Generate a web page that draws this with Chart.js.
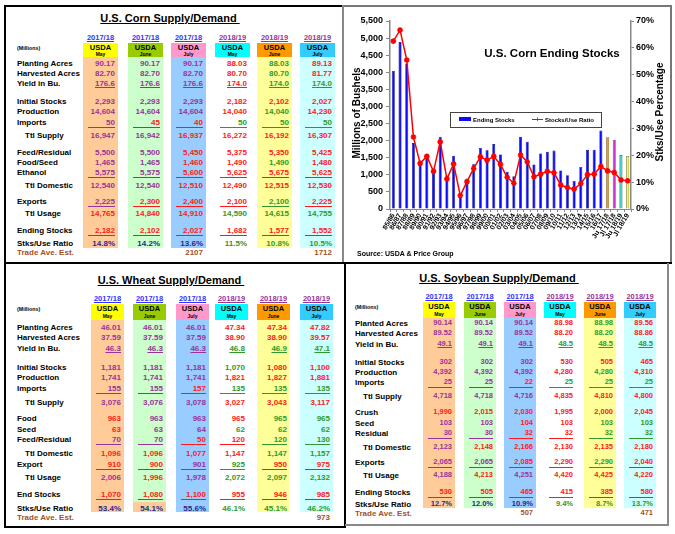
<!DOCTYPE html>
<html><head><meta charset="utf-8">
<script src="https://cdn.jsdelivr.net/npm/chart.js@4.4.0/dist/chart.umd.min.js"></script>
<style>
html,body{margin:0;padding:0;background:#fff;width:675px;height:534px;overflow:hidden;font-family:'Liberation Sans',Arial,sans-serif;font-weight:bold;}
#root{position:relative;width:675px;height:534px;}
</style></head><body>
<div id="root"></div>
<script>
// ---------------- DATA ----------------
const years = ['85/86','86/87','87/88','88/89','89/90','90/91','91/92','92/93','93/94','94/95','95/96','96/97','97/98','98/99','99/00','00/01','01/02','02/03','03/04','04/05','05/06','06/07','07/08','08/09','09/10','10/11','11/12','12/13','13/14','14/15','15/16','16/17','Ju 17/18','Jl 17/18','Ju 18/19','Jl 18/19'];
const endingStocks = [4040,4882,4259,1930,1344,1521,1100,2113,850,1558,426,883,1308,1787,1718,1899,1596,1087,958,2114,1967,1304,1624,1673,1708,1128,989,821,1232,1731,1737,2293,2102,2027,1577,1552];
const stocksUse = [62.5,66.6,55.5,26.8,17.0,19.6,14.0,25.0,11.2,16.8,5.0,10.2,15.1,19.4,18.2,19.6,16.6,11.8,9.6,20.1,17.6,12.0,13.0,14.0,13.5,8.9,8.0,7.4,9.5,12.8,13.0,15.8,14.2,13.6,10.8,10.5];
const leftTicksMax = 5500, leftStep = 500, rightTicksMax = 70, rightStep = 5;

const colYears = ['2017/18','2017/18','2017/18','2018/19','2018/19','2018/19'];
const colMonths = ['May','June','July','May','June','July'];

const cornLabels = ['Planting Acres','Harvested Acres','Yield in Bu.','Initial Stocks','Production','Imports','Ttl Supply','Feed/Residual','Food/Seed','Ethanol','Ttl Domestic','Exports','Ttl Usage','Ending Stocks','Stks/Use Ratio'];
const cornValues = [
 ['90.17','90.17','90.17','88.03','88.03','89.13'],
 ['82.70','82.70','82.70','80.70','80.70','81.77'],
 ['176.6','176.6','176.6','174.0','174.0','174.0'],
 ['2,293','2,293','2,293','2,182','2,102','2,027'],
 ['14,604','14,604','14,604','14,040','14,040','14,230'],
 ['50','45','40','50','50','50'],
 ['16,947','16,942','16,937','16,272','16,192','16,307'],
 ['5,500','5,500','5,450','5,375','5,350','5,425'],
 ['1,465','1,465','1,460','1,490','1,490','1,480'],
 ['5,575','5,575','5,600','5,625','5,675','5,625'],
 ['12,540','12,540','12,510','12,490','12,515','12,530'],
 ['2,225','2,300','2,400','2,100','2,100','2,225'],
 ['14,765','14,840','14,910','14,590','14,615','14,755'],
 ['2,182','2,102','2,027','1,682','1,577','1,552'],
 ['14.8%','14.2%','13.6%','11.5%','10.8%','10.5%']];
const cornColors = ['ppprgr','ppprgr','ppprgg','ppprrr','ppprgr','prrggg','pprrrr','pprrrr','pprrgr','pprrrr','pprrrr','prrrgr','rrrggg','rrrrrr','nnnggg'];
const cornUnder = [null,null,'T',null,null,'prrggg',null,null,null,'pprrrr',null,'prrrgr',null,'rrrrrr',null];
const cornTrade = ['','','2107','','','1712'];

const wheatLabels = ['Planting Acres','Harvested Acres','Yield in Bu.','Initial Stocks','Production','Imports','Ttl Supply','Food','Seed','Feed/Residual','Ttl Domestic','Export','Ttl Usage','End Stocks','Stks/Use Ratio'];
const wheatValues = [
 ['46.01','46.01','46.01','47.34','47.34','47.82'],
 ['37.59','37.59','37.59','38.90','38.90','39.57'],
 ['46.3','46.3','46.3','46.8','46.9','47.1'],
 ['1,181','1,181','1,181','1,070','1,080','1,100'],
 ['1,741','1,741','1,741','1,821','1,827','1,881'],
 ['155','155','157','135','135','135'],
 ['3,076','3,076','3,078','3,027','3,043','3,117'],
 ['963','963','963','965','965','965'],
 ['63','63','64','62','62','62'],
 ['70','70','50','120','120','130'],
 ['1,096','1,096','1,077','1,147','1,147','1,157'],
 ['910','900','901','925','950','975'],
 ['2,006','1,996','1,978','2,072','2,097','2,132'],
 ['1,070','1,080','1,100','955','946','985'],
 ['53.4%','54.1%','55.6%','46.1%','45.1%','46.2%']];
const wheatColors = ['ppprrr','ppprrr','pppggg','pppgrr','ppprrr','pprggg','ppprrr','rpprgg','rppggg','pprrgg','rrrrgg','rrpgrr','prpggg','rrrrrr','nnnggg'];
const wheatUnder = [null,null,'T',null,null,'pprggg',null,null,null,'pprrgg',null,'rrrgrr',null,'rrrrrr',null];
const wheatTrade = ['','','','','','973'];

const soyLabels = ['Planted Acres','Harvested Acres','Yield in Bu.','Initial Stocks','Production','Imports','Ttl Supply','Crush','Seed','Residual','Ttl Domestic','Exports','Ttl Usage','Ending Stocks','Stks/Use Ratio'];
const soyValues = [
 ['90.14','90.14','90.14','88.98','88.98','89.56'],
 ['89.52','89.52','89.52','88.20','88.20','88.86'],
 ['49.1','49.1','49.1','48.5','48.5','48.5'],
 ['302','302','302','530','505','465'],
 ['4,392','4,392','4,392','4,280','4,280','4,310'],
 ['25','25','22','25','25','25'],
 ['4,718','4,718','4,716','4,835','4,810','4,800'],
 ['1,990','2,015','2,030','1,995','2,000','2,045'],
 ['103','103','104','103','103','103'],
 ['30','30','32','32','32','32'],
 ['2,123','2,148','2,166','2,130','2,135','2,180'],
 ['2,065','2,065','2,085','2,290','2,290','2,040'],
 ['4,188','4,213','4,251','4,420','4,425','4,220'],
 ['530','505','465','415','385','580'],
 ['12.7%','12.0%','10.9%','9.4%','8.7%','13.7%']];
const soyColors = ['ppprgr','ppprgr','pppggg','ppprrr','ppprgr','pprggg','ppprrr','rrrrrr','pprrgg','pprrgg','prrrrr','pprrgr','prprrr','rrrrrr','nnnggg'];
const soyUnder = [null,null,'T',null,null,'pprggg',null,null,null,'pprrgg',null,'pprrgr',null,'rrrrrr',null];
const soyTrade = ['','','507','','','471'];

// ---------------- STYLE / LAYOUT ----------------
const F = "'Liberation Sans', Arial, sans-serif";
const COL = {p:'#993399', r:'#ff1a1a', g:'#2e9a2e', n:'#1f2a8f'};
const BROWN = '#a4521f';
const HEAD = ['#ffff00','#99cc00','#ff99cc','#00ffff','#ff9900','#33ccff'];
const BODY = ['#ffcc99','#ccffcc','#99ccff',null,'#ffff99','#ccffff'];
const YEARCOL = ['#3333ff','#3333ff','#3333ff','#993399','#993399','#993399'];

const root = document.getElementById('root');
function el(css, txt){ const e=document.createElement('div'); e.style.cssText='position:absolute;'+css; if(txt!=null) e.textContent=txt; root.appendChild(e); return e; }
function text(txt,x,y,size,color,align,extra){
  const h = Math.round(size*1.6);
  let css = `top:${y-h/2}px;height:${h}px;line-height:${h}px;font-size:${size}px;color:${color};white-space:nowrap;`;
  if(align==='r') css += `left:${x-300}px;width:300px;text-align:right;`;
  else if(align==='c') css += `left:${x-300}px;width:600px;text-align:center;`;
  else css += `left:${x}px;`;
  return el(css+(extra||''), txt);
}
function rect(x,y,w,h,bg){ return el(`left:${x}px;top:${y}px;width:${w}px;height:${h}px;background:${bg};`); }

function drawTable(L, title, labels, values, colors, unders, trade){
  const bodyTop = L.boxTop + L.boxH;
  for(let i=0;i<6;i++){
    if(BODY[i]) rect(L.cols[i], bodyTop, L.w, L.bodyBottom-bodyTop, BODY[i]);
    rect(L.cols[i], L.boxTop, L.w, L.boxH, HEAD[i]);
    const cx = L.cols[i] + L.w/2;
    text('USDA', cx, L.boxTop + L.boxH*0.34, 7.5, '#000', 'c');
    text(colMonths[i], cx, L.boxTop + L.boxH*0.78, 5, '#000', 'c');
    text(colYears[i], cx, L.yearY, 7.5, YEARCOL[i], 'c', 'text-decoration:underline;');
  }
  if(L.quirk) rect(L.cols[1], L.rows[14]-6, L.w, L.bodyBottom-L.rows[14]+6, '#ffcc99');
  text(title+'\u00a0', L.titleX, L.titleY, 11, '#000', 'c', 'text-decoration:underline;');
  text('(Millions)', L.labelX, L.millionsY, 5.3, '#000', 'l');
  const indent = [6,10,12];
  labels.forEach((lab,r)=>{
    text(lab, indent.includes(r)?L.indentX:L.labelX, L.rows[r], 8, '#000', 'l');
    for(let c=0;c<6;c++){
      const u = unders[r];
      text(values[r][c], L.cols[c]+L.w-3, L.rows[r], L.vs, COL[colors[r][c]], 'r', u==='T'?'text-decoration:underline;':'');
      if(u && u!=='T') rect(L.cols[c]+5, L.rows[r]+5, L.w-8, 1.3, COL[u[c]]);
    }
  });
  text('Trade Ave. Est.', L.labelX, L.tradeY, 8, BROWN, 'l');
  trade.forEach((t,c)=>{ if(t) text(t, L.cols[c]+L.w-3, L.tradeY, L.vs, BROWN, 'r'); });
}

// panel frames
rect(4,5,2,523,'#000');
rect(5,5,339,2,'#000');
rect(343,5,329,2,'#777');
rect(342,5,2,259,'#888');
rect(670,5,2,258,'#777');
rect(5,262,667,2,'#000');
rect(344,263,2,265,'#000');
rect(5,526,340,2,'#000');
rect(345,524,324,2,'#888');
rect(667,263,2,263,'#888');

drawTable({labelX:17,indentX:25,cols:[83,128,171,215,257,300],w:35,titleX:170,titleY:18,yearY:38,boxTop:43,boxH:14,bodyBottom:248,millionsY:48,vs:8,
  rows:[63,73,83,101,111,122,135,152,162,172,185,201,213,230,243],tradeY:252},
  'U.S. Corn Supply/Demand', cornLabels, cornValues, cornColors, cornUnder, cornTrade);
drawTable({labelX:17,indentX:25,cols:[91,133,176,215,257,300],w:33,titleX:171,titleY:280,yearY:299,boxTop:304,boxH:16,bodyBottom:512,millionsY:309,vs:8,quirk:true,
  rows:[327,337,348,367,377,388,402,418,429,439,453,464,477,494,508],tradeY:517},
  'U.S. Wheat Supply/Demand', wheatLabels, wheatValues, wheatColors, wheatUnder, wheatTrade);
drawTable({labelX:355,indentX:363,cols:[423,464,504,544,584,624],w:32,titleX:499,titleY:278,yearY:297,boxTop:302,boxH:16,bodyBottom:508,millionsY:307,vs:7.5,
  rows:[323,333,344,362,372,382,396,412,423,433,447,462,475,492,504],tradeY:513},
  'U.S. Soybean Supply/Demand', soyLabels, soyValues, soyColors, soyUnder, soyTrade);

// ---------------- CHART ----------------
const box = el('left:345px;top:5px;width:326px;height:256px;');
const cv = document.createElement('canvas'); cv.width=326; cv.height=256; cv.style.cssText='width:326px;height:256px;';
box.appendChild(cv);

text('U.S. Corn Ending Stocks', 552, 53, 11.5, '#000', 'c');
text('Millions of Bushels', 357, 113, 10, '#000', 'c', 'transform:rotate(-90deg);');
text('Stks/Use Percentage', 660, 112, 10, '#000', 'c', 'transform:rotate(-90deg);');
text('Source: USDA & Price Group', 357, 253, 7, '#000', 'l');
// legend
el('left:450px;top:112px;width:150px;height:14px;border:1px solid #444;background:#fff;');
rect(459,117,12,4,'#0a0aff');
text('Ending Stocks', 473, 119.5, 6, '#000', 'l');
rect(532,118.5,11,1.3,'#ff0000');
text('+', 537.5, 119, 7, '#ff0000', 'c');
text('Stocks/Use Ratio', 545, 119.5, 6, '#000', 'l');

const PROJ = ['#ff9900','#cc33cc','#33cccc','#ffff00'];
const nHist = years.length - PROJ.length;
const barBg = years.map((_,i)=> i<nHist ? '#0a0aff' : PROJ[i-nHist]);
const barBd = years.map((_,i)=> i<nHist ? '#000080' : '#333');
const tickFont = {family:F, size:9, weight:'bold'};

new Chart(cv, {
  data:{ labels: years, datasets:[
    {type:'line', label:'Stocks/Use Ratio', data:stocksUse, yAxisID:'y1', borderColor:'#ff0000', backgroundColor:'#ff0000',
     borderWidth:1.5, pointStyle:'star', pointRadius:2.8, pointBorderWidth:1.6, pointBorderColor:'#ff0000', tension:0, order:0},
    {type:'bar', label:'Ending Stocks', data:endingStocks, yAxisID:'y', backgroundColor:barBg, borderColor:barBd, borderWidth:0.6,
     barPercentage:0.5, categoryPercentage:0.9, order:1}
  ]},
  options:{
    responsive:false, animation:false,
    layout:{padding:{top:16,left:0,right:0,bottom:0}},
    plugins:{legend:{display:false}, tooltip:{enabled:false}},
    scales:{
      x:{offset:true,
         grid:{display:true, drawOnChartArea:false, tickLength:3, color:'#888'},
         border:{display:true, color:'#888', width:1},
         ticks:{autoSkip:false, maxRotation:60, minRotation:60, padding:0, color:'#000', font:{family:F,size:7,weight:'bold'}},
         afterFit(s){ s.height = 52; }},
      y:{position:'left', min:0, max:leftTicksMax,
         ticks:{stepSize:leftStep, color:'#000', padding:3, font:tickFont, callback:v=>v.toLocaleString('en-US')},
         grid:{display:true, drawOnChartArea:false, tickLength:4, color:'#888'},
         border:{display:true, color:'#888', width:1.5},
         afterFit(s){ s.width = 45; }},
      y1:{position:'right', min:0, max:rightTicksMax,
         ticks:{stepSize:rightStep, color:'#000', padding:2, font:tickFont, callback:v=>v+'%'},
         grid:{display:true, drawOnChartArea:false, tickLength:3, color:'#888'},
         border:{display:true, color:'#888', width:1.5},
         afterFit(s){ s.width = 40; }}
    }
  }
});
</script>
</body></html>
